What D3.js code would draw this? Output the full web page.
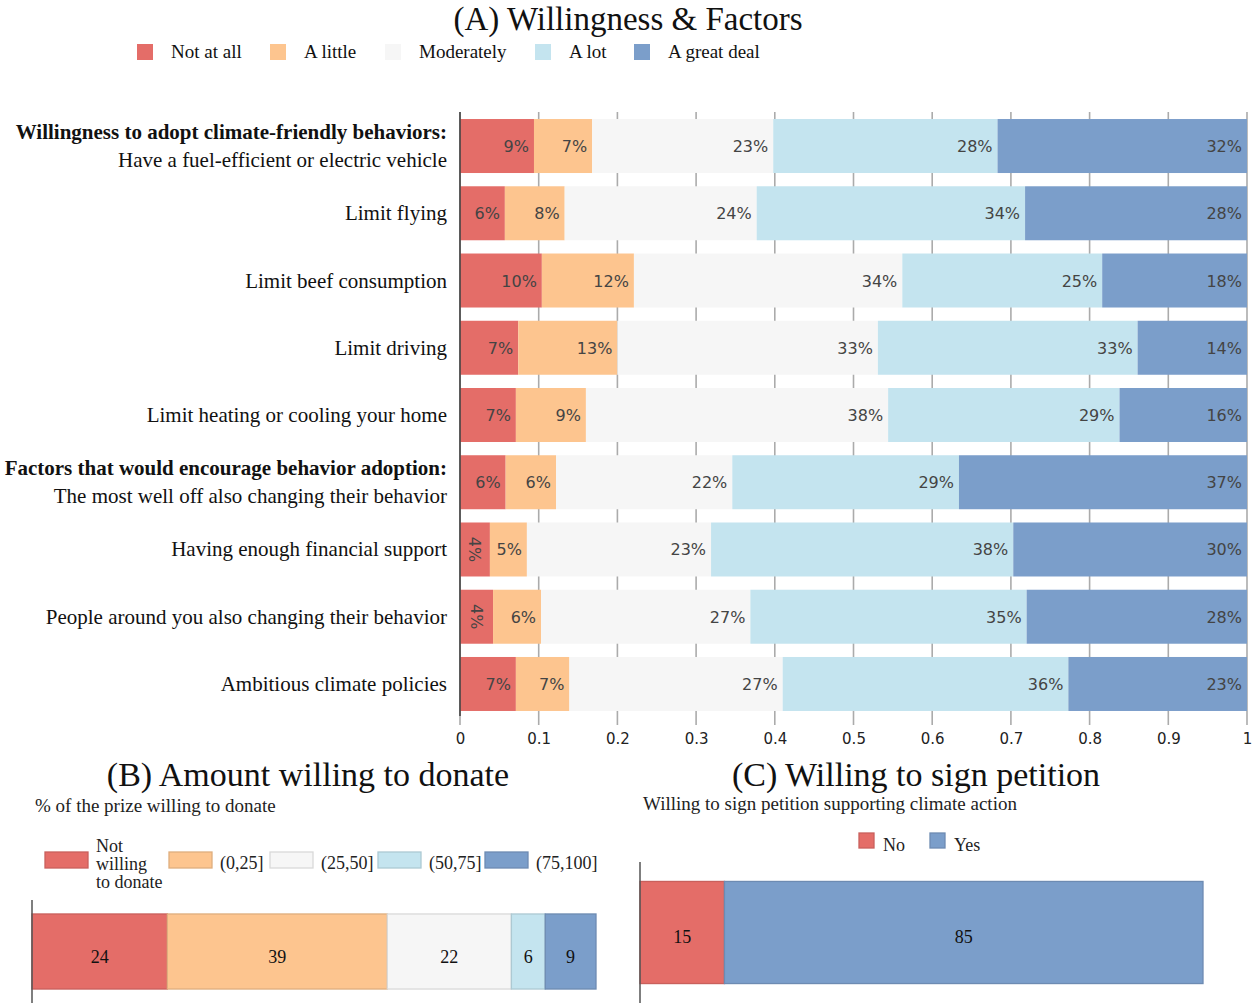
<!DOCTYPE html>
<html>
<head>
<meta charset="utf-8">
<script src="https://cdn.jsdelivr.net/npm/d3@7/dist/d3.min.js"></script>
<style>
  html, body { margin: 0; padding: 0; background: #fff; }
  svg { display: block; }
</style>
</head>
<body>
<svg id="chart" width="1257" height="1003"></svg>
<script>
// ---------- DATA ----------
const levelsA = ["Not at all", "A little", "Moderately", "A lot", "A great deal"];
const rowsA = [
  "Have a fuel-efficient or electric vehicle",
  "Limit flying",
  "Limit beef consumption",
  "Limit driving",
  "Limit heating or cooling your home",
  "The most well off also changing their behavior",
  "Having enough financial support",
  "People around you also changing their behavior",
  "Ambitious climate policies"
];
const groupHeaders = [
  { row: "Have a fuel-efficient or electric vehicle", header: "Willingness to adopt climate-friendly behaviors:" },
  { row: "The most well off also changing their behavior", header: "Factors that would encourage behavior adoption:" }
];
const notAtAll   = [0.094, 0.057, 0.104, 0.074, 0.071, 0.058, 0.038, 0.042, 0.071];
const aLittle    = [0.074, 0.076, 0.117, 0.126, 0.089, 0.064, 0.047, 0.061, 0.068];
const moderately = [0.230, 0.244, 0.341, 0.331, 0.384, 0.224, 0.234, 0.266, 0.271];
const aLot       = [0.285, 0.341, 0.254, 0.330, 0.294, 0.288, 0.384, 0.351, 0.363];
const greatDeal  = [0.317, 0.282, 0.184, 0.139, 0.162, 0.366, 0.297, 0.280, 0.227];
const xTicksA = [0, 0.1, 0.2, 0.3, 0.4, 0.5, 0.6, 0.7, 0.8, 0.9, 1];

const levelsB = ["Not willing to donate", "(0,25]", "(25,50]", "(50,75]", "(75,100]"];
const valuesB = [24, 39, 22, 6, 9];

const levelsC = ["No", "Yes"];
const valuesC = [15, 85];

// ---------- STYLE ----------
const colors5 = ["#e46d68", "#fdc58f", "#f6f6f6", "#c4e4ef", "#7b9eca"];
const colorsC = ["#e46d68", "#7b9eca"];
const serif = "'Liberation Serif', 'Times New Roman', serif";
const sans = "'DejaVu Sans', Verdana, sans-serif";

const svg = d3.select("#chart");

// ================= PANEL A =================
const seriesA = [notAtAll, aLittle, moderately, aLot, greatDeal];
const x = d3.scaleLinear().domain([0, 1]).range([460, 1247]);
const y = d3.scaleBand().domain(rowsA).range([112.4, 717.6]).paddingInner(0.197).paddingOuter(0.0985);

svg.append("text").attr("x", 628).attr("y", 30).attr("text-anchor", "middle")
  .attr("font-family", serif).attr("font-size", 33).attr("fill", "#111")
  .text("(A) Willingness & Factors");

// legend A
const legAx = [137, 270, 385, 535, 634];
const legA = svg.append("g");
levelsA.forEach((lv, i) => {
  legA.append("rect").attr("x", legAx[i]).attr("y", 44).attr("width", 16).attr("height", 16)
    .attr("fill", colors5[i]);
  legA.append("text").attr("x", legAx[i] + 34).attr("y", 58)
    .attr("font-family", serif).attr("font-size", 19).attr("fill", "#111").text(lv);
});

// grid lines behind bars
const gA = svg.append("g");
gA.selectAll("line.grid").data(xTicksA).join("line").attr("class", "grid")
  .attr("x1", d => x(d)).attr("x2", d => x(d)).attr("y1", 112).attr("y2", 725)
  .attr("stroke", "#ababab").attr("stroke-width", 1.6);

// stacked bars
const stacked = rowsA.map((r, ri) => {
  let acc = 0;
  return seriesA.map((s, si) => {
    const seg = { row: r, level: si, v: s[ri], x0: acc, x1: acc + s[ri] };
    acc += s[ri];
    return seg;
  });
}).flat();

gA.selectAll("rect.seg").data(stacked).join("rect").attr("class", "seg")
  .attr("x", d => x(d.x0)).attr("width", d => x(d.x1) - x(d.x0))
  .attr("y", d => y(d.row)).attr("height", y.bandwidth())
  .attr("fill", d => colors5[d.level]);

// left axis line
gA.append("line").attr("x1", x(0)).attr("x2", x(0)).attr("y1", 112).attr("y2", 716)
  .attr("stroke", "#444").attr("stroke-width", 1.6);

// value labels
const lblG = gA.append("g");
stacked.forEach(d => {
  const w = x(d.x1) - x(d.x0);
  const t = lblG.append("text").attr("font-family", sans).attr("font-size", 16)
    .attr("fill", "#444").text(Math.round(d.v * 100) + "%");
  const tw = t.node().getComputedTextLength();
  const cy = y(d.row) + y.bandwidth() / 2;
  if (tw + 10 > w) {
    const cx = (x(d.x0) + x(d.x1)) / 2;
    t.attr("text-anchor", "middle").attr("dominant-baseline", "central")
      .attr("transform", `translate(${cx},${cy}) rotate(90)`);
  } else {
    t.attr("text-anchor", "end").attr("x", x(d.x1) - 5).attr("y", cy + 6);
  }
});

// x axis tick labels
const axA = svg.append("g").attr("transform", "translate(0,725)")
  .call(d3.axisBottom(x).tickValues(xTicksA).tickFormat(d3.format("~g")).tickSize(0).tickPadding(8));
axA.select(".domain").remove();
axA.selectAll("text").attr("font-family", sans).attr("font-size", 15).attr("fill", "#222");

// row labels
const rowLbl = svg.append("g").attr("font-family", serif).attr("font-size", 21).attr("fill", "#111")
  .attr("text-anchor", "end");
rowsA.forEach(r => {
  const cy = y(r) + y.bandwidth() / 2;
  const hdr = groupHeaders.find(g => g.row === r);
  if (hdr) {
    rowLbl.append("text").attr("x", 447).attr("y", cy - 7).attr("font-weight", "bold").text(hdr.header);
    rowLbl.append("text").attr("x", 447).attr("y", cy + 21).text(r);
  } else {
    rowLbl.append("text").attr("x", 447).attr("y", cy + 7).text(r);
  }
});

// ================= PANEL B =================
const xB = d3.scaleLinear().domain([0, 100]).range([32, 596]);
const yB = d3.scaleBand().domain(["Amount"]).range([900, 1003]).padding(0.157);

svg.append("text").attr("x", 308).attr("y", 786).attr("text-anchor", "middle")
  .attr("font-family", serif).attr("font-size", 34).attr("fill", "#111")
  .text("(B) Amount willing to donate");
svg.append("text").attr("x", 35).attr("y", 812)
  .attr("font-family", serif).attr("font-size", 19).attr("fill", "#222")
  .text("% of the prize willing to donate");

const legBx = [45, 169, 270, 378, 485];
const legB = svg.append("g");
levelsB.forEach((lv, i) => {
  legB.append("rect").attr("x", legBx[i]).attr("y", 852).attr("width", 43).attr("height", 16)
    .attr("fill", colors5[i]).attr("stroke", d3.color(colors5[i]).darker(0.35)).attr("stroke-width", 1.3);
  if (i === 0) {
    const t = legB.append("text").attr("x", legBx[i] + 51).attr("y", 852)
      .attr("font-family", serif).attr("font-size", 18).attr("fill", "#222");
    ["Not", "willing", "to donate"].forEach((ln, k) => {
      t.append("tspan").attr("x", legBx[i] + 51).attr("y", 852 + k * 18).text(ln);
    });
  } else {
    legB.append("text").attr("x", legBx[i] + 51).attr("y", 869)
      .attr("font-family", serif).attr("font-size", 18).attr("fill", "#222").text(lv);
  }
});

let accB = 0;
const segB = valuesB.map((v, i) => { const s = { i, v, x0: accB, x1: accB + v }; accB += v; return s; });
const gB = svg.append("g");
gB.selectAll("rect").data(segB).join("rect")
  .attr("x", d => xB(d.x0)).attr("width", d => xB(d.x1) - xB(d.x0))
  .attr("y", yB("Amount")).attr("height", yB.bandwidth())
  .attr("fill", d => colors5[d.i]).attr("stroke", d => d3.color(colors5[d.i]).darker(0.35)).attr("stroke-width", 1.3);
gB.selectAll("text").data(segB).join("text")
  .attr("x", d => (xB(d.x0) + xB(d.x1)) / 2).attr("y", yB("Amount") + yB.bandwidth() / 2 + 11)
  .attr("text-anchor", "middle").attr("font-family", serif).attr("font-size", 18).attr("fill", "#111")
  .text(d => d.v);
gB.append("line").attr("x1", xB(0)).attr("x2", xB(0)).attr("y1", 900).attr("y2", 1003)
  .attr("stroke", "#555").attr("stroke-width", 1.5);

// ================= PANEL C =================
const xC = d3.scaleLinear().domain([0, 100]).range([640, 1203]);
const yC = d3.scaleBand().domain(["Petition"]).range([862, 1003]).padding(0.16);

svg.append("text").attr("x", 916).attr("y", 786).attr("text-anchor", "middle")
  .attr("font-family", serif).attr("font-size", 34).attr("fill", "#111")
  .text("(C) Willing to sign petition");
svg.append("text").attr("x", 643).attr("y", 810)
  .attr("font-family", serif).attr("font-size", 19).attr("fill", "#222")
  .text("Willing to sign petition supporting climate action");

const legCx = [859, 930];
const legC = svg.append("g");
levelsC.forEach((lv, i) => {
  legC.append("rect").attr("x", legCx[i]).attr("y", 833).attr("width", 15).attr("height", 15)
    .attr("fill", colorsC[i]).attr("stroke", d3.color(colorsC[i]).darker(0.35)).attr("stroke-width", 1.3);
  legC.append("text").attr("x", legCx[i] + 24).attr("y", 851)
    .attr("font-family", serif).attr("font-size", 18).attr("fill", "#222").text(lv);
});

let accC = 0;
const segC = valuesC.map((v, i) => { const s = { i, v, x0: accC, x1: accC + v }; accC += v; return s; });
const gC = svg.append("g");
gC.selectAll("rect").data(segC).join("rect")
  .attr("x", d => xC(d.x0)).attr("width", d => xC(d.x1) - xC(d.x0))
  .attr("y", yC("Petition")).attr("height", yC.bandwidth())
  .attr("fill", d => colorsC[d.i]).attr("stroke", d => d3.color(colorsC[d.i]).darker(0.35)).attr("stroke-width", 1.3);
gC.selectAll("text").data(segC).join("text")
  .attr("x", d => (xC(d.x0) + xC(d.x1)) / 2).attr("y", yC("Petition") + yC.bandwidth() / 2 + 10)
  .attr("text-anchor", "middle").attr("font-family", serif).attr("font-size", 18).attr("fill", "#111")
  .text(d => d.v);
gC.append("line").attr("x1", xC(0)).attr("x2", xC(0)).attr("y1", 862).attr("y2", 1003)
  .attr("stroke", "#555").attr("stroke-width", 1.5);
</script>
</body>
</html>
